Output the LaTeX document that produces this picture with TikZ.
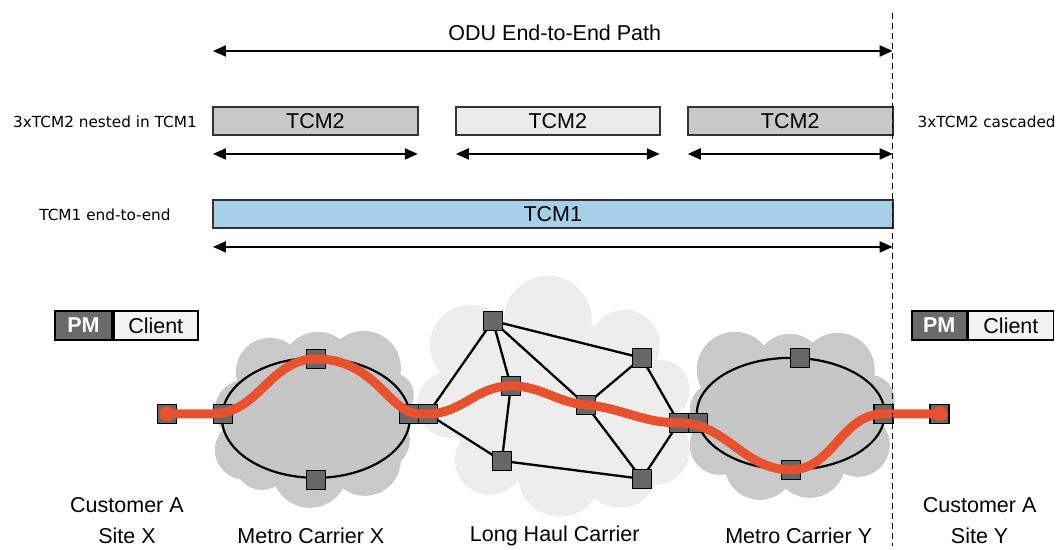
\documentclass[tikz,border=0pt]{standalone}
\usepackage{fontspec}
\setmainfont{Liberation Sans}
\newfontfamily\labelfont{DejaVu Sans}
\usetikzlibrary{arrows.meta,shapes.geometric}

\definecolor{boxgray}{HTML}{C8C8C8}
\definecolor{boxlight}{HTML}{EAEAEA}
\definecolor{tcmblue}{HTML}{A8CFE8}
\definecolor{metrocloud}{HTML}{C9C9C9}
\definecolor{metrofill}{HTML}{C6C6C6}
\definecolor{haulcloud}{HTML}{EDEDED}
\definecolor{nodegray}{HTML}{676767}
\definecolor{pathred}{HTML}{E9502D}
\definecolor{pmgray}{HTML}{6A6A6A}
\definecolor{clientfill}{HTML}{F3F3F3}

\pgfdeclarelayer{scenery}
\pgfdeclarelayer{mesh}
\pgfsetlayers{scenery,mesh,main}

\begin{document}
\begin{tikzpicture}[x=1pt,y=1pt,
  bigfont/.style={font=\fontsize{21.5}{24}\selectfont},
  sidefont/.style={font=\labelfont\fontsize{15.3}{18}\selectfont},
  tcmbox/.style={draw=black!80, line width=1.8pt, minimum height=28pt, inner sep=0pt, bigfont},
  span/.style={line width=2pt, {Triangle[length=13pt,width=11pt]}-{Triangle[length=13pt,width=11pt]}},
  sq/.style={draw=black, fill=nodegray, line width=1.4pt, minimum size=19pt, inner sep=0pt},
  link/.style={line width=2.3pt},
  ring/.style={draw=black, fill=metrofill, line width=2.2pt, ellipse, inner sep=0pt},
  redpath/.style={draw=pathred, line width=9pt, line cap=round},
  pmbox/.style={draw=black, line width=1.8pt, minimum height=29pt, inner sep=0pt, bigfont},
]
\begin{pgfonlayer}{scenery}
\useasboundingbox[fill=white] (0,0) rectangle (1059,-546);
\end{pgfonlayer}

% ---- path hierarchy ----
\node[bigfont] (odu) at (555,-33) {ODU End-to-End Path};
\coordinate (oduL) at (213,-51);
\coordinate (oduR) at (893,-51);
\draw[span] (oduL) -- (oduR);

\node[sidefont] (nested) at (105,-122) {3xTCM2 nested in TCM1};
\node[sidefont] (cascaded) at (987,-122) {3xTCM2 cascaded};
\node[sidefont] (e2e) at (105,-215) {TCM1 end-to-end};

\node[tcmbox, fill=boxgray, minimum width=205pt] (ta) at (315.5,-121) {TCM2};
\node[tcmbox, fill=boxlight, minimum width=204pt] (tb) at (558,-121) {TCM2};
\node[tcmbox, fill=boxgray, minimum width=205pt] (tc) at (790.5,-121) {TCM2};

\coordinate (taL) at (213,-154); \coordinate (taR) at (418,-154);
\coordinate (tbL) at (456,-154); \coordinate (tbR) at (660,-154);
\coordinate (tcL) at (688,-154); \coordinate (tcR) at (893,-154);
\draw[span] (taL) -- (taR);
\draw[span] (tbL) -- (tbR);
\draw[span] (tcL) -- (tcR);

\node[tcmbox, fill=tcmblue, minimum width=680pt] (t1) at (553,-214) {TCM1};
\coordinate (t1L) at (213,-247); \coordinate (t1R) at (893,-247);
\draw[span] (t1L) -- (t1R);

% ---- clouds and metro rings ----
\begin{pgfonlayer}{scenery}
% long haul carrier cloud
\fill[haulcloud] (470,-345) circle (40) (548,-320) circle (44) (625,-345) circle (35)
  (660,-390) circle (30) (655,-450) circle (35) (620,-470) circle (38)
  (560,-475) circle (42) (490,-460) circle (35) (450,-405) circle (33)
  (555,-400) ellipse [x radius=110, y radius=80];
% metro carrier X cloud
\fill[metrocloud] (270,-372) circle (34) (318,-368) circle (36) (364,-368) circle (37)
  (392,-395) circle (22) (245,-410) circle (30) (245,-450) circle (30)
  (262,-462) circle (28) (310,-470) circle (38) (365,-460) circle (36)
  (380,-440) circle (30) (316,-420) ellipse [x radius=95, y radius=62];
% metro carrier Y cloud
\fill[metrocloud] (735,-370) circle (38) (790,-368) circle (34) (838,-370) circle (37)
  (870,-400) circle (25) (718,-410) circle (28) (720,-445) circle (30)
  (760,-465) circle (35) (810,-462) circle (36) (858,-445) circle (32)
  (791,-414) ellipse [x radius=95, y radius=58];
\node[ring, minimum width=188pt, minimum height=120pt] (mx) at (316,-418) {};
\node[ring, minimum width=188pt, minimum height=112pt] (my) at (791,-414) {};
\end{pgfonlayer}

% ---- network elements ----
\node[sq] (sx)   at (167,-414) {};
\node[sq] (mxl)  at (223,-414) {};
\node[sq] (mxt)  at (316,-359) {};
\node[sq] (mxb)  at (316,-480) {};
\node[sq] (mxr)  at (409,-414) {};
\node[sq] (lhl)  at (428,-414) {};
\node[sq] (lht)  at (493,-321) {};
\node[sq] (lhm)  at (511,-386) {};
\node[sq] (lhb)  at (502,-461) {};
\node[sq] (lhc)  at (586,-405) {};
\node[sq] (lhur) at (642,-358) {};
\node[sq] (lhlr) at (642,-479) {};
\node[sq] (lhr)  at (679,-423) {};
\node[sq] (myl)  at (698,-423) {};
\node[sq] (myt)  at (800,-358) {};
\node[sq] (myb)  at (791,-470) {};
\node[sq] (myr)  at (884,-414) {};
\node[sq] (sy)   at (940,-414) {};

% long haul mesh, kept beneath the elements
\begin{pgfonlayer}{mesh}
\draw[link] (lhl.center) -- (lht.center);
\draw[link] (lhl.center) -- (lhb.center);
\draw[link] (lht.center) -- (lhm.center);
\draw[link] (lht.center) -- (lhc.center);
\draw[link] (lht.center) -- (lhur.center);
\draw[link] (lhm.center) -- (lhb.center);
\draw[link] (lhb.center) -- (lhlr.center);
\draw[link] (lhc.center) -- (lhur.center);
\draw[link] (lhc.center) -- (lhlr.center);
\draw[link] (lhur.center) -- (lhr.center);
\draw[link] (lhlr.center) -- (lhr.center);
\end{pgfonlayer}

% ---- end-to-end service path ----
\draw[redpath] (sx.center) -- (mxl.west) to[out=0,in=180] (mxt.center)
  .. controls +(60,0) and +(-30,0) .. (mxr.east) -- (lhl.center)
  to[out=0,in=180] (lhm.center) to[out=0,in=175] (lhc.center)
  to[out=-5,in=180] (lhr.center) to[out=0,in=180] (myb.center)
  to[out=0,in=180] (myr.center) -- (sy.center);
\fill[pathred] (sx.center) circle (7.5);
\fill[pathred] (sy.center) circle (7.5);

% ---- client signal boxes ----
\node[pmbox, fill=pmgray, text=white, minimum width=57pt, font=\fontsize{21.5}{24}\selectfont\bfseries] (pmA) at (83.5,-325.5) {PM};
\node[pmbox, fill=clientfill, minimum width=84pt, anchor=west] (clA) at (pmA.east) {Client};
\node[pmbox, fill=pmgray, text=white, minimum width=55pt, font=\fontsize{21.5}{24}\selectfont\bfseries] (pmB) at (939.5,-325.5) {PM};
\node[pmbox, fill=clientfill, minimum width=85pt, anchor=west] (clB) at (pmB.east) {Client};

% ---- domain labels ----
\node[bigfont] (custX) at (127,-505) {Customer A};
\node[bigfont] (siteX) at (127,-536) {Site X};
\node[bigfont] (metX) at (311,-536) {Metro Carrier X};
\node[bigfont] (lhaul) at (555,-536) {Long Haul Carrier};
\node[bigfont] (metY) at (799,-536) {Metro Carrier Y};
\node[bigfont] (custY) at (980,-505) {Customer A};
\node[bigfont] (siteY) at (980,-536) {Site Y};

% ---- domain boundary ----
\coordinate (bTop) at (893,-13);
\coordinate (bBot) at (893,-546);
\draw[line width=1.4pt, dash pattern=on 6pt off 4pt] (bTop) -- (bBot);
\end{tikzpicture}
\end{document}
